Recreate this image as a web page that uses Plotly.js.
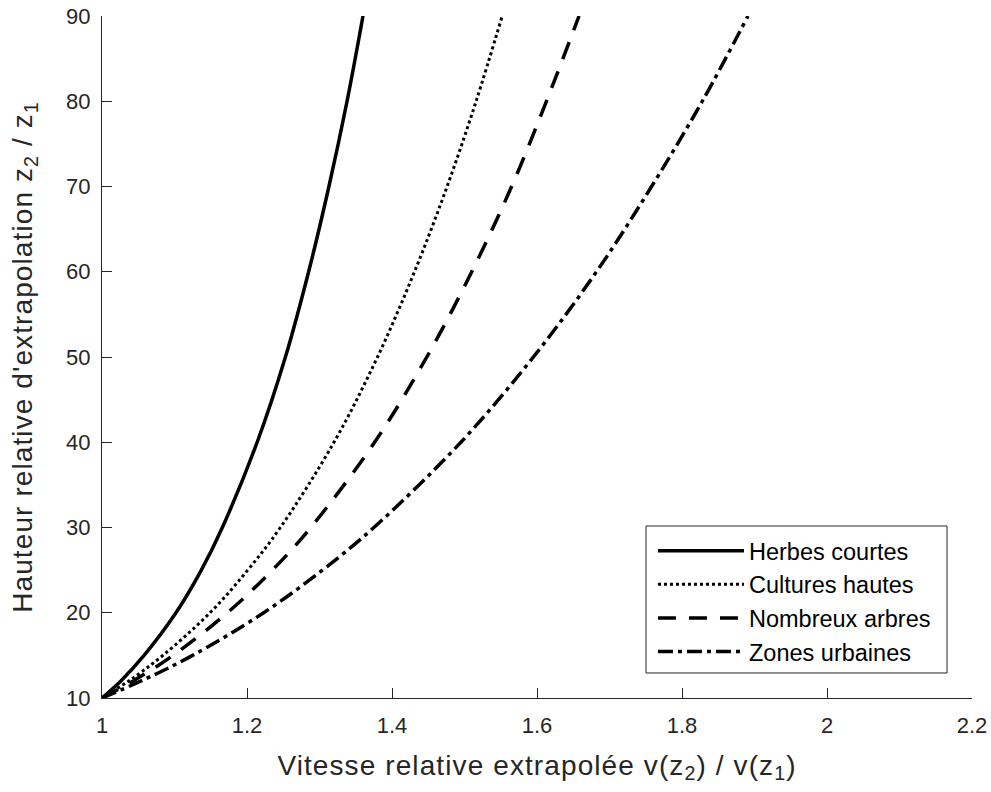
<!DOCTYPE html>
<html>
<head>
<meta charset="utf-8">
<script src="https://cdn.plot.ly/plotly-3.0.1.min.js"></script>
<style>
html,body{margin:0;padding:0;background:#fff}
#chart{width:991px;height:792px}
#chart .xtitle, #chart .ytitle{letter-spacing:1.1px}
</style>
</head>
<body>
<div id="chart"></div>
<script>
// Relative extrapolation height z2/z1 (y axis)
const heightRatio = [10, 12, 15, 20, 25, 30, 40, 50, 60, 70, 80, 90];
// Relative extrapolated speed v(z2)/v(z1) (x axis)
const herbesCourtes   = [1, 1.026, 1.058, 1.102, 1.137, 1.166, 1.214, 1.253, 1.285, 1.313, 1.338, 1.360];
const culturesHautes  = [1, 1.037, 1.084, 1.149, 1.201, 1.246, 1.320, 1.380, 1.431, 1.476, 1.516, 1.552];
const nombreuxArbres  = [1, 1.043, 1.098, 1.173, 1.235, 1.288, 1.376, 1.448, 1.510, 1.565, 1.613, 1.658];
const zonesUrbaines   = [1, 1.054, 1.125, 1.223, 1.304, 1.375, 1.495, 1.595, 1.682, 1.758, 1.828, 1.891];
const seriesNames = ["Herbes courtes", "Cultures hautes", "Nombreux arbres", "Zones urbaines"];
const xTickVals = [1, 1.2, 1.4, 1.6, 1.8, 2, 2.2];
const xTickText = ["1", "1.2", "1.4", "1.6", "1.8", "2", "2.2"];
const yTickVals = [10, 20, 30, 40, 50, 60, 70, 80, 90];
const yTickText = ["10", "20", "30", "40", "50", "60", "70", "80", "90"];

const axisGrey = "#262626";
const fontFam = "'Liberation Sans', Arial, sans-serif";

const seriesData = [herbesCourtes, culturesHautes, nombreuxArbres, zonesUrbaines];
const dashes = ["solid", "3px,3px", "18px,13px", "15px,5px,4px,5px"];
const widths = [3.5, 3, 3.5, 3.5];

const traces = seriesData.map((xs, i) => ({
  type: "scatter",
  mode: "lines",
  x: xs,
  y: heightRatio,
  name: seriesNames[i],
  legendgroup: "g" + i,
  line: {color: "#000", width: widths[i], dash: dashes[i], shape: "spline", smoothing: 1},
  cliponaxis: true
}));

const layout = {
  width: 991,
  height: 792,
  margin: {l: 102, r: 19, t: 16, b: 94, pad: 0},
  paper_bgcolor: "#fff",
  plot_bgcolor: "#fff",
  font: {family: fontFam, color: axisGrey, size: 22},
  showlegend: true,
  legend: {
    x: 0.6333, y: 0.2478, xanchor: "left", yanchor: "top",
    bgcolor: "rgba(0,0,0,0)", borderwidth: 0,
    font: {family: fontFam, size: 23.5, color: "#000"},
    itemwidth: 86,
    tracegroupgap: 6,
    traceorder: "normal"
  },
  shapes: [{
    type: "rect", xref: "paper", yref: "paper",
    x0: 0.6253, x1: 0.9713, y0: 0.0367, y1: 0.2522,
    line: {color: axisGrey, width: 1}, fillcolor: "#fff", layer: "below"
  }],
  xaxis: {
    range: [1, 2.2],
    tickvals: xTickVals, ticktext: xTickText,
    showline: true, linecolor: axisGrey, linewidth: 1,
    ticks: "inside", ticklen: 10, tickwidth: 1, tickcolor: axisGrey,
    showgrid: false, zeroline: false, mirror: false,
    tickfont: {family: fontFam, size: 22, color: axisGrey},
    ticklabelstandoff: 8,
    title: {text: "Vitesse relative extrapolée v(z<sub>2</sub>) / v(z<sub>1</sub>)", font: {family: fontFam, size: 28, color: axisGrey}, standoff: 17}
  },
  yaxis: {
    range: [10, 90],
    tickvals: yTickVals, ticktext: yTickText,
    showline: true, linecolor: axisGrey, linewidth: 1,
    ticks: "inside", ticklen: 10, tickwidth: 1, tickcolor: axisGrey,
    showgrid: false, zeroline: false, mirror: false,
    tickfont: {family: fontFam, size: 22, color: axisGrey},
    ticklabelstandoff: 6,
    title: {text: "Hauteur relative d'extrapolation z<sub>2</sub> / z<sub>1</sub>", font: {family: fontFam, size: 28, color: axisGrey}, standoff: 25}
  }
};

Plotly.newPlot("chart", traces, layout, {displayModeBar: false, staticPlot: true});
</script>
</body>
</html>
